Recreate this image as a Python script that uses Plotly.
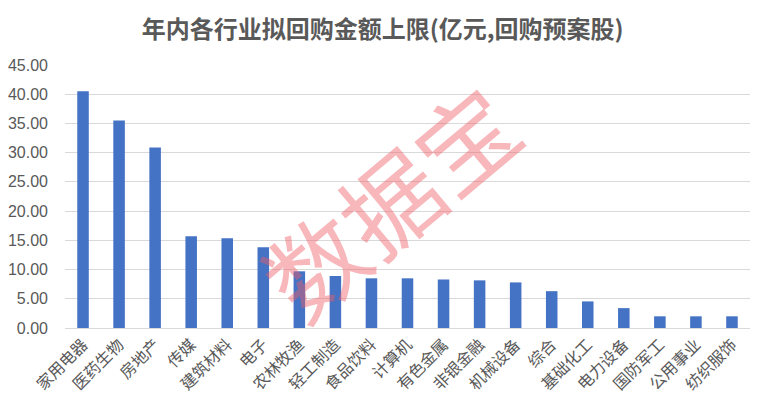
import plotly.graph_objects as go

categories = ["家用电器", "医药生物", "房地产", "传媒", "建筑材料", "电子", "农林牧渔", "轻工制造",
              "食品饮料", "计算机", "有色金属", "非银金融", "机械设备", "综合", "基础化工", "电力设备",
              "国防军工", "公用事业", "纺织服饰"]
values = [40.5, 35.5, 30.9, 15.7, 15.35, 13.8, 9.7, 8.9, 8.5, 8.5, 8.3, 8.15, 7.8, 6.3, 4.55, 3.4, 2.0, 2.0, 2.0]
y_ticks = [0, 5, 10, 15, 20, 25, 30, 35, 40, 45]
title = "年内各行业拟回购金额上限(亿元,回购预案股)"
watermark = "数据宝"

FONT = "Liberation Sans, Arial, Noto Sans CJK SC, sans-serif"

fig = go.Figure(go.Bar(x=categories, y=values, marker=dict(color="#4472C4", line=dict(width=0))))

fig.update_layout(
    width=754, height=401,
    margin=dict(l=57, r=12, t=57, b=81),
    paper_bgcolor="white", plot_bgcolor="white",
    bargap=0.68,
    showlegend=False,
    font=dict(family=FONT, color="#595959", size=14),
    title=dict(text="<b>" + title + "</b>", x=0.497, xanchor="center", y=0.947, yanchor="middle",
               font=dict(family="Noto Sans CJK SC, Liberation Sans", size=24, color="#595959")),
    xaxis=dict(tickangle=-45, showgrid=False, showline=True, linecolor="#D9D9D9", linewidth=1,
               ticks="", automargin=False,
               tickfont=dict(family="Noto Sans CJK SC", size=16, color="#595959")),
    yaxis=dict(range=[0, 45], tickvals=y_ticks, ticktext=[f"{v:.2f}" for v in y_ticks],
               showgrid=True, gridcolor="#D9D9D9", gridwidth=1, zeroline=False, showline=False,
               ticks="", ticklabelstandoff=16, automargin=False,
               tickfont=dict(family=FONT, size=16, color="#595959")),
    annotations=[dict(text=watermark, xref="paper", yref="paper", x=0.472, y=0.49,
                      showarrow=False, textangle=-40,
                      font=dict(family="Noto Sans CJK SC", size=98, color="rgba(238,95,105,0.45)"))],
)

fig.write_html("out.html")
